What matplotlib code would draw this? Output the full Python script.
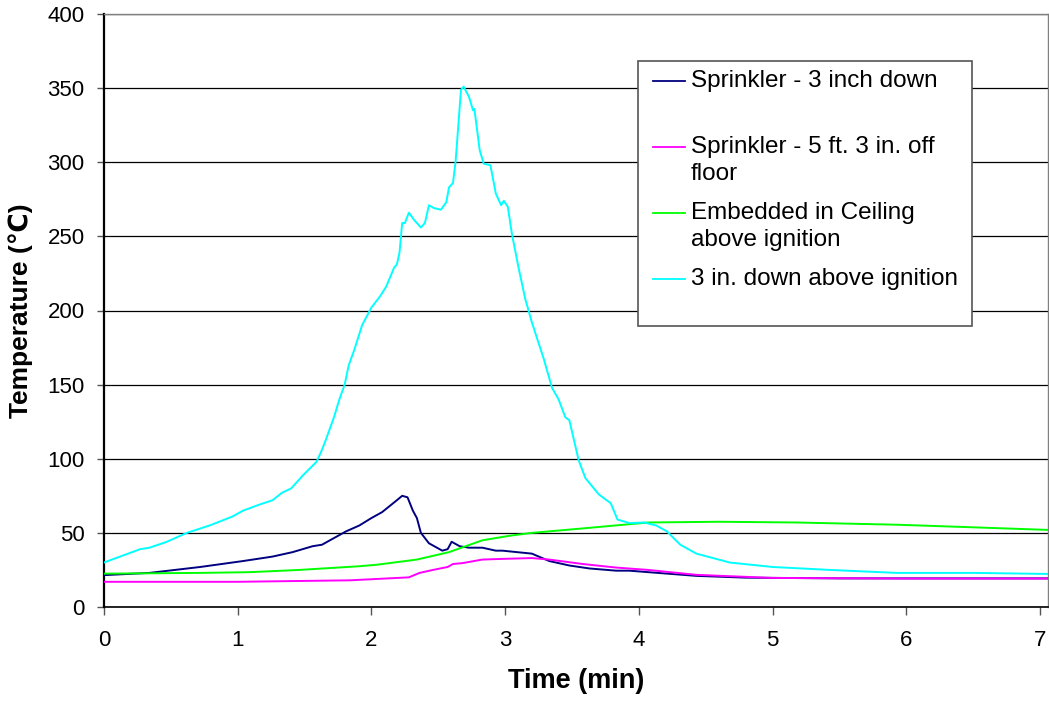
import matplotlib
matplotlib.use('Agg')
from matplotlib import pyplot as plt
from matplotlib.patches import Rectangle
from matplotlib.lines import Line2D

plt.rcParams['font.family'] = ['Liberation Sans', 'DejaVu Sans']

# readings: time (min), temperature (C)
t_cyan = [0.00, 0.12, 0.27, 0.34, 0.47, 0.62, 0.79, 0.96, 1.04, 1.16, 1.26, 1.33, 1.40, 1.49,
          1.59, 1.63, 1.66, 1.72, 1.76, 1.80, 1.83, 1.87, 1.93, 2.00, 2.06, 2.11, 2.17, 2.19,
          2.21, 2.23, 2.25, 2.28, 2.32, 2.37, 2.40, 2.43, 2.47, 2.52, 2.56, 2.58, 2.61, 2.63,
          2.67, 2.69, 2.73, 2.76, 2.77, 2.81, 2.84, 2.89, 2.93, 2.97, 2.99, 3.02, 3.05, 3.10,
          3.15, 3.20, 3.29, 3.35, 3.40, 3.45, 3.48, 3.55, 3.60, 3.70, 3.79, 3.84, 3.93, 4.04,
          4.13, 4.21, 4.31, 4.43, 4.68, 5.00, 5.43, 5.93, 6.50, 7.06]
T_cyan = [30, 34, 39, 40, 44, 50, 55, 61, 65, 69, 72, 77, 80, 89,
          98, 106, 113, 128, 140, 150, 163, 173, 190, 202, 209, 216, 229, 231,
          239, 259, 259, 266, 261, 256, 259, 271, 269, 268, 273, 283, 286, 301,
          349, 351, 344, 335, 336, 308, 299, 298, 279, 271, 274, 270, 252, 229,
          208, 192, 167, 148, 140, 128, 126, 99, 87, 76, 70, 59, 56.6, 57,
          55, 51, 42, 36, 30, 27, 25, 23, 23, 22.3]

t_navy = [0.00, 0.34, 0.72, 1.04, 1.26, 1.41, 1.56, 1.63, 1.71, 1.81, 1.91, 2.00, 2.08, 2.19,
          2.23, 2.27, 2.31, 2.34, 2.37, 2.43, 2.53, 2.57, 2.60, 2.66, 2.73, 2.83, 2.93, 2.98,
          3.20, 3.33, 3.48, 3.63, 3.83, 3.93, 4.07, 4.43, 4.80, 5.50, 7.06]
T_navy = [21.5, 23, 27, 31, 34, 37, 41, 42, 46, 51, 55, 60, 64, 72,
          75, 74, 65, 60, 50, 43, 38, 39, 44, 41, 40, 40, 38, 38,
          36, 31, 28, 26, 24.5, 24.5, 23.5, 21, 19.8, 19.3, 19.3]

t_mag = [0.00, 1.00, 1.84, 2.28, 2.36, 2.46, 2.57, 2.61, 2.68, 2.83, 2.96, 3.20, 3.33, 3.58,
         3.83, 4.07, 4.43, 5.00, 6.00, 7.06]
T_mag = [17, 17, 18, 20, 23, 25, 27, 29, 29.6, 32, 32.4, 33, 32, 29,
         26.6, 25, 21.7, 19.6, 19.2, 19.2]

t_green = [0.00, 0.72, 1.09, 1.46, 1.91, 2.04, 2.34, 2.58, 2.83, 3.03, 3.20, 3.58, 4.07, 4.60,
           5.18, 5.93, 6.42, 7.06]
T_green = [22.5, 23, 23.5, 25, 27.5, 28.5, 32, 37, 45, 48, 50, 53, 57, 57.5,
           57, 55.5, 54, 52]

labels = [['Sprinkler - 3 inch down'],
          ['Sprinkler - 5 ft. 3 in. off', 'floor'],
          ['Embedded in Ceiling', 'above ignition'],
          ['3 in. down above ignition']]
colors = ['#000080', '#FF00FF', '#00FF00', '#00FFFF']

fig = plt.figure(figsize=(10.49, 7.04), dpi=100)
ax = fig.add_axes([104/1049, 1-607/704, (1048-104)/1049, (607-14)/704])

ax.plot(t_navy, T_navy, color=colors[0], lw=1.4, zorder=3)
ax.plot(t_mag, T_mag, color=colors[1], lw=1.4, zorder=3)
ax.plot(t_green, T_green, color=colors[2], lw=1.4, zorder=3)
ax.plot(t_cyan, T_cyan, color=colors[3], lw=1.4, zorder=3)

ax.set_xlim(0, 7.06)
ax.set_ylim(0, 400)
ax.set_xticks(range(0, 8))
ax.set_yticks(range(0, 401, 50))
ax.grid(axis='y', color='black', lw=0.9)
ax.set_axisbelow(True)

for s in ['top', 'right']:
    ax.spines[s].set_color('#808080')
    ax.spines[s].set_linewidth(1)
ax.spines['left'].set_linewidth(1.6)
ax.spines['bottom'].set_linewidth(1.2)
ax.tick_params(axis='y', length=5, width=1, color='#555555', labelsize=16, pad=9)
ax.tick_params(axis='x', length=5.5, width=1, color='#555555', labelsize=16, pad=11)

ax.set_xlabel('Time (min)', fontsize=19.5, fontweight='bold')
ax.set_ylabel('Temperature (℃)', fontsize=19, fontweight='bold')
ax.xaxis.set_label_coords(0.5, -0.103)
ax.yaxis.set_label_coords(-0.075, 0.5)

# legend box drawn by hand so the line sits on the first text line
fig.patches.append(Rectangle((638/1049, 1-326/704), (972-638)/1049, (326-61)/704,
                             transform=fig.transFigure, facecolor='white',
                             edgecolor='#555555', lw=1.2, zorder=5))
for i, (lab, c) in enumerate(zip(labels, colors)):
    y = 1 - (81 + 66*i)/704
    fig.lines.append(Line2D([653/1049, 685/1049], [y, y], transform=fig.transFigure,
                            color=c, lw=1.3, zorder=6))
    for j, line in enumerate(lab):
        fig.text(691/1049, y - j*27/704, line, fontsize=17.5, va='center', ha='left', zorder=6)

fig.savefig('out.png', dpi=100)
